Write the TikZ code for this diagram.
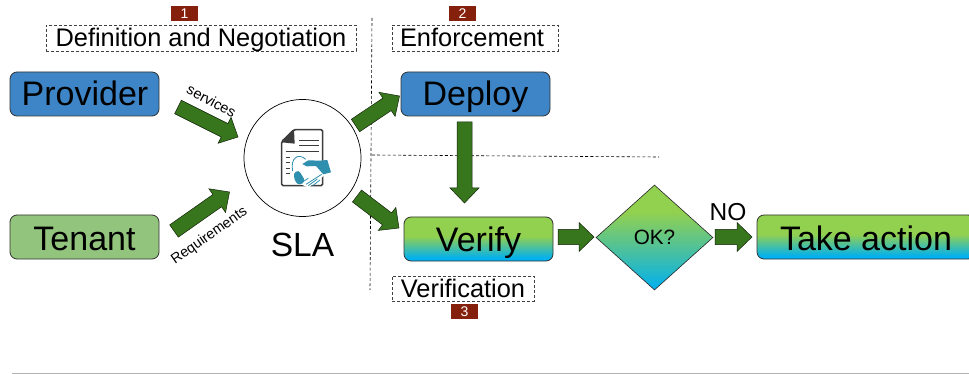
\documentclass[tikz,border=0pt]{standalone}
\usepackage{fontspec}
\setmainfont{Liberation Sans}
\usetikzlibrary{calc,shapes.geometric}
\definecolor{provblue}{HTML}{3D85C6}
\definecolor{tengreen}{HTML}{93C47D}
\definecolor{arrowgreen}{HTML}{38761D}
\definecolor{badgered}{HTML}{85200C}
\definecolor{gradgreen}{HTML}{92D050}
\definecolor{gradblue}{HTML}{00B0F0}
\definecolor{icondark}{HTML}{3C3C3C}
\definecolor{iconteal}{HTML}{2F8FAE}
\pgfdeclareverticalshading{boxgrad}{100bp}{color(0bp)=(gradblue);color(28bp)=(gradblue);color(53bp)=(gradgreen);color(100bp)=(gradgreen)}
\pgfdeclareverticalshading{diagrad}{100bp}{color(0bp)=(gradblue);color(25bp)=(gradblue);color(62bp)=(gradgreen);color(100bp)=(gradgreen)}
\tikzset{
  x=1pt,y=-1pt,
  baseoff/.style={text height=#1*2pt,text depth=0pt},
  roundbox/.style={draw=black!80,line width=.8pt,rounded corners=7pt,minimum height=44pt,inner sep=0pt,font=\fontsize{34}{36}\selectfont},
  gradbox/.style={roundbox,shading=boxgrad},
  dashbox/.style={draw=black!75,densely dashed,line width=.6pt,inner sep=0pt,font=\fontsize{25.4}{28}\selectfont},
  badge/.style={fill=badgered,text=white,minimum width=27pt,minimum height=15pt,inner sep=0pt,font=\fontsize{14}{15}\selectfont},
  divider/.style={black,line width=.6pt,dash pattern=on 3pt off 2.2pt},
  fat/.style={draw=black!70!arrowgreen,line width=.5pt,fill=arrowgreen,
    to path={($(\tikztostart)!7.5pt!90:(\tikztotarget)$) --
      ($(\tikztotarget)!15pt!(\tikztostart)!7.5pt!90:(\tikztotarget)$) --
      ($(\tikztotarget)!15pt!(\tikztostart)!14.5pt!90:(\tikztotarget)$) --
      (\tikztotarget) --
      ($(\tikztotarget)!15pt!(\tikztostart)!14.5pt!-90:(\tikztotarget)$) --
      ($(\tikztotarget)!15pt!(\tikztostart)!7.5pt!-90:(\tikztotarget)$) --
      ($(\tikztostart)!7.5pt!-90:(\tikztotarget)$) -- cycle}},
}
\begin{document}
\begin{tikzpicture}
\useasboundingbox (0,0) rectangle (969,374);
% dividers
\coordinate (vtop) at (372,18); \coordinate (vbot) at (370,290);
\coordinate (hleft) at (372,155); \coordinate (hright) at (659,157);
\draw[divider] (vtop) -- (vbot);
\draw[divider] (hleft) -- (hright);
\coordinate (rulea) at (12,373.3); \coordinate (ruleb) at (969,373.3);
\draw[black!30,line width=.8pt] (rulea) -- (ruleb);
% boxes
\node[roundbox,fill=provblue,minimum width=149pt,baseoff=12] (provider) at (84.5,94) {\hspace{1pt}Provider};
\node[roundbox,fill=tengreen,minimum width=149pt,baseoff=13.7] (tenant) at (84.5,237) {Tenant};
\node[roundbox,fill=provblue,minimum width=149pt,baseoff=12] (deploy) at (475.5,94) {Deploy};
\node[gradbox,minimum width=149pt,baseoff=12.7] (verify) at (478.5,239) {Verify};
\node[gradbox,minimum width=218pt,baseoff=14] (action) at (866,237) {Take action};
\node[diamond,draw=black!85,line width=.6pt,shading=diagrad,minimum width=117pt,minimum height=105pt,inner sep=0pt,font=\fontsize{20.7}{22}\selectfont] (ok) at (654.5,237.5) {OK?};
% sla
\node[circle,draw=black,line width=.7pt,fill=white,minimum size=117pt,inner sep=0pt] (sla) at (302.5,158) {};
\node[font=\fontsize{33.5}{36}\selectfont] (slatext) at (302.5,245) {SLA};
% dashed headings
\node[dashbox,minimum width=310pt,minimum height=26pt,baseoff=8.7] (def) at (201,38) {Definition and Negotiation};
\node[dashbox,minimum width=166pt,minimum height=26pt,baseoff=8.7] (enf) at (475,38) {Enforcement\hspace{6pt}\hspace{6pt}};
\node[dashbox,minimum width=142pt,minimum height=25pt,baseoff=9.2] (ver) at (463,288.5) {Verification};
\node[badge] (b1) at (184.5,13.5) {1};
\node[badge] (b2) at (462.5,13.5) {2};
\node[badge] (b3) at (464.5,311.5) {3};
% arrows
\coordinate (a1s) at (178,107); \coordinate (a1t) at (238,137);
\coordinate (a2s) at (174,231); \coordinate (a2t) at (229.5,192);
\coordinate (a3s) at (355.5,125.5); \coordinate (a3t) at (399.5,96);
\coordinate (a4s) at (357,196); \coordinate (a4t) at (399,228);
\coordinate (a5s) at (464.5,122); \coordinate (a5t) at (464.5,203);
\coordinate (a6s) at (558,237); \coordinate (a6t) at (594,237);
\coordinate (a7s) at (715,237); \coordinate (a7t) at (752,237);
\draw[fat] (a1s) to (a1t);
\draw[fat] (a2s) to (a2t);
\draw[fat] (a3s) to (a3t);
\draw[fat] (a4s) to (a4t);
\draw[fat] (a5s) to (a5t);
\draw[fat] (a6s) to (a6t);
\draw[fat] (a7s) to (a7t);
% arrow labels
\node[rotate=-28.5,font=\fontsize{14.5}{16}\selectfont,inner sep=0pt] (svc) at (211.5,101) {services};
\node[rotate=35,font=\fontsize{14.3}{16}\selectfont,inner sep=0pt] (req) at (209.5,236) {Requirements};
\node[font=\fontsize{24.5}{26}\selectfont,inner sep=0pt] (no) at (728,212) {NO};
% icon
\begin{scope}[shift={(240,95)},x=.3333pt,y=-.3333pt]
  \draw[icondark,line width=1.6pt,line join=round,rounded corners=1.5pt] (125,140) -- (162,104) -- (248,104) -- (248,272) -- (125,272) -- cycle;
  \fill[icondark] (125,142) -- (162,103) -- (164,146) -- cycle;
  \foreach \yy in {137,153,170}{\draw[icondark,line width=1pt] (178,\yy) -- (236,\yy);}
  \draw[icondark,line width=1pt] (137,170) -- (178,170);
  \foreach \yy in {187,203,220,237}{\draw[icondark,line width=1pt] (137,\yy) -- (150,\yy);}
  \fill[white] (152,220) .. controls (150,185) and (175,175) .. (200,190) -- (252,205) -- (255,240) -- (205,278) -- (170,262) -- cycle;
  \draw[iconteal,line width=.8pt] (158,228) .. controls (150,190) and (175,172) .. (197,193);
  \draw[iconteal,line width=.8pt] (198,268) -- (245,238);
  \draw[iconteal,line width=.8pt] (185,262) -- (205,250) (205,272) -- (232,252) (218,272) -- (240,255);
  \fill[iconteal] (187,207) -- (205,196) -- (240,197) -- (262,195) -- (273,232) -- (250,238) -- (228,213) -- (200,214) -- cycle;
  \fill[iconteal,rounded corners=3pt] (160,235) -- (176,225) -- (196,258) -- (180,271) -- (166,262) -- cycle;
\end{scope}
\end{tikzpicture}
\end{document}
